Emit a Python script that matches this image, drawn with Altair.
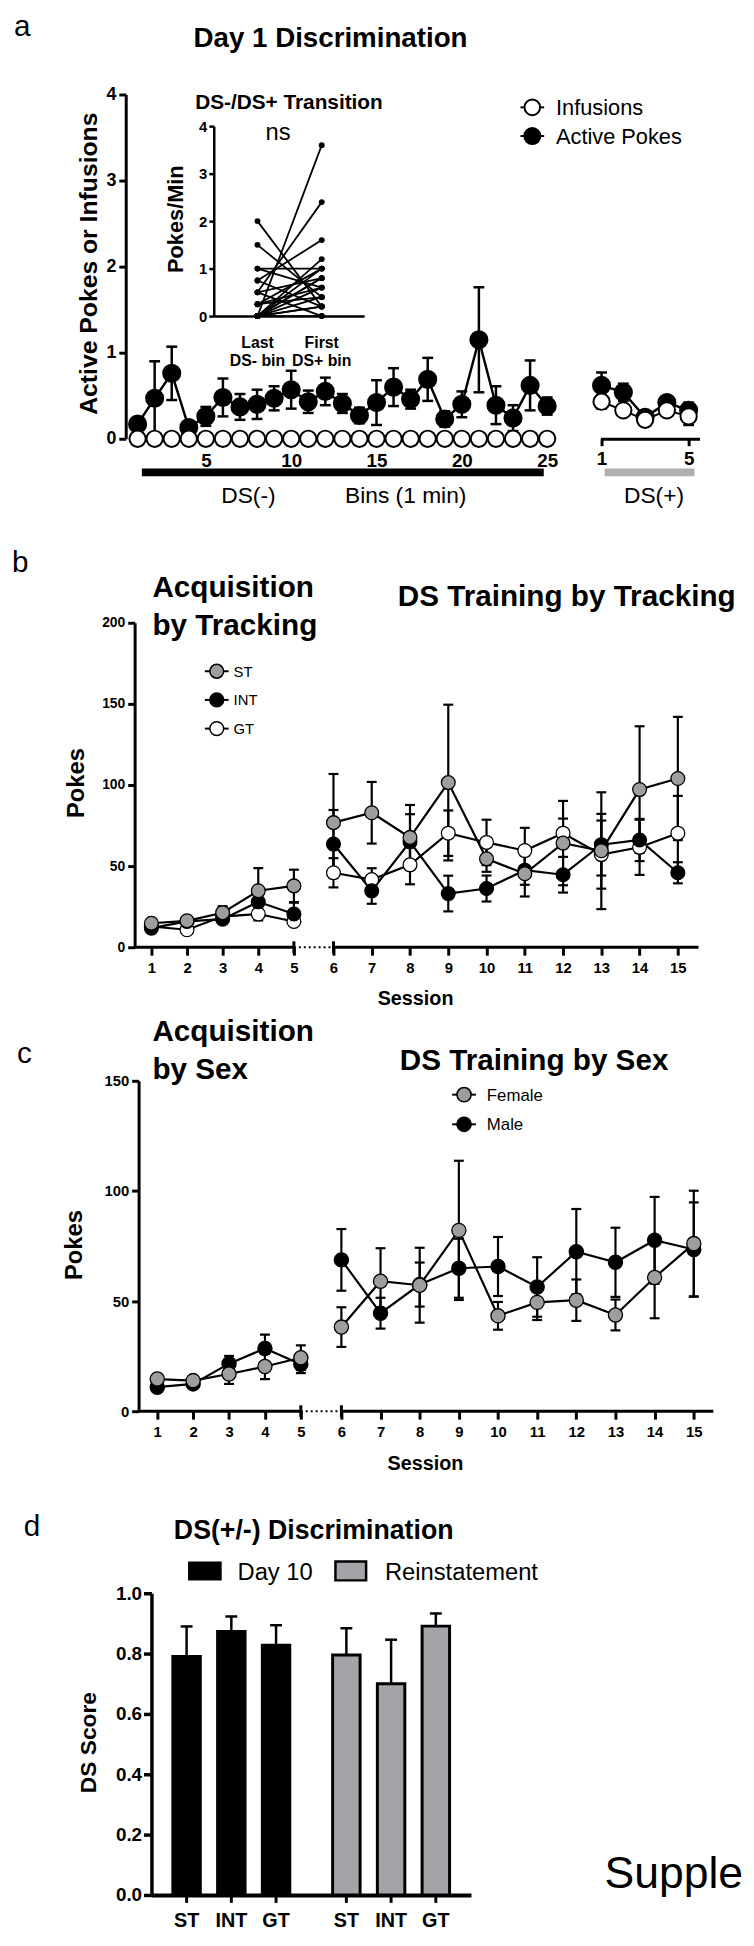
import altair as alt
import pandas as pd

FONT = "Liberation Sans"
W, H = 746, 1924
MARGIN = 8


def P(v):
    return v - MARGIN


# ---------------- Panel a data ----------------
a_bins_minus = [1, 2, 3, 4, 5, 6, 7, 8, 9, 10, 11, 12, 13, 14, 15, 16, 17, 18, 19, 20, 21, 22, 23, 24, 25]
a_active_minus = [0.17, 0.47, 0.76, 0.13, 0.26, 0.48, 0.37, 0.40, 0.47, 0.57, 0.43, 0.55, 0.41,
                  0.27, 0.42, 0.60, 0.46, 0.69, 0.23, 0.40, 1.15, 0.39, 0.24, 0.62, 0.38]
a_active_minus_sem = [0.04, 0.43, 0.31, 0.03, 0.11, 0.22, 0.15, 0.17, 0.14, 0.22, 0.13, 0.16, 0.11,
                      0.09, 0.26, 0.22, 0.11, 0.25, 0.09, 0.15, 0.61, 0.22, 0.15, 0.29, 0.10]
a_inf_minus = [0, 0, 0, 0, 0, 0, 0, 0, 0, 0, 0, 0, 0, 0, 0, 0, 0, 0, 0, 0, 0, 0, 0, 0, 0]
a_bins_plus = [1, 2, 3, 4, 5]
a_active_plus = [0.62, 0.54, 0.25, 0.42, 0.33]
a_active_plus_sem = [0.15, 0.10, 0.04, 0.04, 0.09]
a_inf_plus = [0.43, 0.33, 0.22, 0.33, 0.26]
a_inf_plus_sem = [0.08, 0.04, 0.03, 0.03, 0.10]

# inset: last DS- bin vs first DS+ bin (pokes/min), one pair per subject
ins_last = [2.0, 1.5, 1.0, 1.0, 0.75, 0.75, 0.5, 0.5, 0.5, 0.25, 0.25, 0.25,
            0, 0, 0, 0, 0, 0, 0, 0, 0, 0]
ins_first = [0.2, 0.4, 1.0, 0.6, 1.6, 0.2, 2.4, 0.8, 0.0, 1.0, 0.6, 0.4,
             3.6, 1.2, 1.0, 0.8, 0.6, 0.4, 0.2, 0.2, 0.0, 0.8]
ins_lab_top = ["Last", "First"]
ins_lab_bot = ["DS- bin", "DS+ bin"]

# ---------------- Panel b data ----------------
sessions = [1, 2, 3, 4, 5, 6, 7, 8, 9, 10, 11, 12, 13, 14, 15]
b_st = [14.8, 16.3, 21.3, 34.8, 37.8, 76.8, 82.9, 67.7, 101.5, 54.5, 45.3, 64.2, 59.5, 97.2, 104.0]
b_st_sem = [2.0, 2.0, 4.0, 14.0, 10.0, 30.0, 19.0, 20.0, 48.0, 8.0, 14.0, 26.0, 36.0, 39.0, 38.0]
b_int = [11.8, 15.9, 17.3, 28.0, 20.5, 63.6, 34.8, 65.0, 33.1, 36.2, 47.5, 44.7, 63.2, 66.1, 45.9]
b_int_sem = [1.0, 1.0, 2.0, 6.0, 7.0, 21.0, 8.0, 17.0, 11.0, 8.0, 9.0, 11.0, 19.0, 13.0, 6.5]
b_gt = [12.8, 10.8, 18.9, 20.5, 15.9, 45.9, 41.7, 50.8, 70.3, 64.6, 59.6, 70.3, 57.1, 61.6, 70.3]
b_gt_sem = [1.0, 1.0, 2.0, 4.0, 2.0, 9.0, 7.0, 12.0, 14.0, 14.0, 14.0, 9.0, 21.0, 17.0, 23.0]

# ---------------- Panel c data ----------------
c_female = [14.6, 13.9, 16.9, 20.3, 24.3, 38.2, 59.0, 57.2, 82.1, 43.3, 49.4, 50.4, 43.7, 60.7, 76.1]
c_female_sem = [1.5, 1.5, 4.5, 5.7, 5.6, 9.0, 15.0, 17.0, 31.6, 6.3, 8.0, 9.4, 7.0, 18.5, 24.0]
c_male = [10.9, 12.4, 21.6, 28.5, 21.3, 68.7, 44.5, 57.5, 64.9, 65.7, 56.4, 72.4, 67.6, 77.6, 73.4]
c_male_sem = [1.2, 1.2, 3.5, 6.3, 4.0, 14.0, 7.0, 10.0, 13.4, 13.4, 13.5, 19.4, 15.7, 19.7, 21.4]

# ---------------- Panel d data ----------------
d_sessions = ["Day 10", "Reinstatement"]
d_groups = ["ST", "INT", "GT"]
d_session = ["Day 10", "Day 10", "Day 10", "Reinstatement", "Reinstatement", "Reinstatement"]
d_group = ["ST", "INT", "GT", "ST", "INT", "GT"]
d_score = [0.79, 0.873, 0.828, 0.795, 0.70, 0.891]
d_err = [0.10, 0.05, 0.066, 0.089, 0.146, 0.042]

GRAY = "#9e9e9e"
BARGRAY = "#a4a4a8"
ONE = pd.DataFrame({"k": [0]})


# ---------------- helpers ----------------
def y_axis(xpos, values, size, fmt=None, tick=7, width=3, pad=3):
    kw = dict(orient="left", offset=-P(xpos), values=values, grid=False, title=None,
              domainColor="black", domainWidth=width, tickColor="black", tickWidth=width,
              tickSize=tick, labelFont=FONT, labelFontSize=size, labelFontWeight="bold",
              labelColor="black", labelPadding=pad, labelOverlap=False, labelFlush=False)
    if fmt:
        kw["format"] = fmt
    return alt.Axis(**kw)


def x_axis(ypos, values=None, size=15, domain=True, ticks=True, labels=True, tick=7,
           width=3, pad=3):
    kw = dict(orient="bottom", offset=P(ypos) - H, grid=False, title=None,
              domain=domain, ticks=ticks, labels=labels,
              domainColor="black", domainWidth=width, tickColor="black", tickWidth=width,
              tickSize=tick if ticks else 0, labelFont=FONT, labelFontSize=size,
              labelFontWeight="bold", labelColor="black", labelPadding=pad,
              labelOverlap=False, labelFlush=False)
    if values is not None:
        kw["values"] = values
    return alt.Axis(**kw)


def text(t, x, y, size, weight="normal", align="left", angle=0, baseline="alphabetic"):
    return alt.Chart(ONE).mark_text(
        text=t, font=FONT, fontSize=size, fontWeight=weight, align=align,
        baseline=baseline, angle=angle, color="black"
    ).encode(x=alt.value(P(x)), y=alt.value(P(y)))


def legend_item(xm, y, fill, label, xt, size, fsize, half=12, sw=1.5):
    base = alt.Chart(ONE)
    ln = base.mark_rule(color="black", strokeWidth=2).encode(
        x=alt.value(P(xm - half)), x2=alt.value(P(xm + half)), y=alt.value(P(y)))
    pt = base.mark_point(shape="circle", filled=True, fill=fill, stroke="black",
                         strokeWidth=sw, size=size, opacity=1).encode(
        x=alt.value(P(xm)), y=alt.value(P(y)))
    tx = text(label, xt, y + 0.36 * fsize, fsize)
    return [ln, pt, tx]


def errbar_layers(base, X, ys, axy, mean, lo, hi, cap=11, sw=2.5):
    err = base.mark_rule(color="black", strokeWidth=sw).encode(
        x=X, y=alt.Y(f"{lo}:Q", scale=ys, axis=axy), y2=f"{hi}:Q")
    ch = base.mark_tick(orient="horizontal", color="black", size=cap, thickness=sw,
                        opacity=1).encode(x=X, y=alt.Y(f"{hi}:Q", scale=ys, axis=axy))
    cl = base.mark_tick(orient="horizontal", color="black", size=cap, thickness=sw,
                        opacity=1).encode(x=X, y=alt.Y(f"{lo}:Q", scale=ys, axis=axy))
    return [err, ch, cl]


# ================= Panel a: DS(-) bins =================
dfa = pd.DataFrame({"bin": a_bins_minus, "active": a_active_minus,
                    "sem": a_active_minus_sem, "inf": a_inf_minus})
xa = alt.Scale(domain=[1, 25], range=[P(139), P(553)], nice=False, zero=False)
ya = alt.Scale(domain=[0, 4], range=[P(433), P(85)], nice=False, zero=False)
ax_xa = x_axis(433, values=[5, 10, 15, 20, 25], size=19, domain=False, ticks=False, pad=13)
ax_ya = y_axis(127, [0, 1, 2, 3, 4], 18, tick=7, pad=3)
Xa = alt.X("bin:Q", scale=xa, axis=ax_xa)
base_a = alt.Chart(dfa).transform_calculate(
    lo="datum.active - datum.sem", hi="datum.active + datum.sem")
a_layers = errbar_layers(base_a, Xa, ya, ax_ya, "active", "lo", "hi", cap=11)
a_layers += [
    base_a.mark_line(color="black", strokeWidth=2.5).encode(
        x=Xa, y=alt.Y("active:Q", scale=ya, axis=ax_ya)),
    base_a.mark_point(shape="circle", filled=True, fill="black", stroke="black",
                      size=300, opacity=1).encode(
        x=Xa, y=alt.Y("active:Q", scale=ya, axis=ax_ya)),
    base_a.mark_line(color="black", strokeWidth=2).encode(
        x=Xa, y=alt.Y("inf:Q", scale=ya, axis=ax_ya)),
    base_a.mark_point(shape="circle", filled=True, fill="white", stroke="black",
                      strokeWidth=2, size=270, opacity=1).encode(
        x=Xa, y=alt.Y("inf:Q", scale=ya, axis=ax_ya)),
    alt.Chart(ONE).transform_calculate(s="1.25", e="24.8").mark_rect(color="black").encode(
        x=alt.X("s:Q", scale=xa, axis=ax_xa), x2="e:Q",
        y=alt.value(P(463)), y2=alt.value(P(471))),
]
panel_a_minus = alt.layer(*a_layers)

# ================= Panel a: DS(+) bins =================
dfp = pd.DataFrame({"bin": a_bins_plus, "active": a_active_plus, "sem": a_active_plus_sem,
                    "inf": a_inf_plus, "isem": a_inf_plus_sem})
xp = alt.Scale(domain=[0.95, 5.5], range=[P(606.9), P(707)], nice=False, zero=False)
yp = alt.Scale(domain=[0, 4], range=[P(433), P(85)], nice=False, zero=False)
ax_xp = x_axis(433, values=[1, 5], size=19, tick=7, pad=4)
Xp = alt.X("bin:Q", scale=xp, axis=ax_xp)
base_p = alt.Chart(dfp).transform_calculate(
    lo="datum.active - datum.sem", hi="datum.active + datum.sem",
    ilo="datum.inf - datum.isem", ihi="datum.inf + datum.isem")
p_layers = errbar_layers(base_p, Xp, yp, None, "active", "lo", "hi", cap=11)
p_layers += [
    base_p.mark_line(color="black", strokeWidth=2.5).encode(
        x=Xp, y=alt.Y("active:Q", scale=yp, axis=None)),
    base_p.mark_point(shape="circle", filled=True, fill="black", stroke="black",
                      size=300, opacity=1).encode(
        x=Xp, y=alt.Y("active:Q", scale=yp, axis=None)),
]
p_layers += errbar_layers(base_p, Xp, yp, None, "inf", "ilo", "ihi", cap=11)
p_layers += [
    base_p.mark_line(color="black", strokeWidth=2).encode(
        x=Xp, y=alt.Y("inf:Q", scale=yp, axis=None)),
    base_p.mark_point(shape="circle", filled=True, fill="white", stroke="black",
                      strokeWidth=2, size=270, opacity=1).encode(
        x=Xp, y=alt.Y("inf:Q", scale=yp, axis=None)),
    alt.Chart(ONE).transform_calculate(s="1.14", e="5.27").mark_rect(color="#b3aeae").encode(
        x=alt.X("s:Q", scale=xp, axis=ax_xp), x2="e:Q",
        y=alt.value(P(463)), y2=alt.value(P(471))),
]
panel_a_plus = alt.layer(*p_layers)

# ================= Panel a: inset =================
ins_rows = []
for i, (l, f) in enumerate(zip(ins_last, ins_first)):
    ins_rows.append({"subj": i, "t": 0, "val": l})
    ins_rows.append({"subj": i, "t": 1, "val": f})
dfi = pd.DataFrame(ins_rows)
dfil = pd.DataFrame({"t": [0, 1], "top": ins_lab_top, "bot": ins_lab_bot})
xi = alt.Scale(domain=[-0.68, 1.66], range=[P(216), P(368)], nice=False, zero=False)
yi = alt.Scale(domain=[0, 4], range=[P(309), P(117)], nice=False, zero=False)
ax_xi = x_axis(309, ticks=False, labels=False, width=2.5)
ax_yi = y_axis(216, [0, 1, 2, 3, 4], 15, tick=5, width=2.5, pad=2)
Xi = alt.X("t:Q", scale=xi, axis=ax_xi)
panel_inset = alt.layer(
    alt.Chart(dfi).mark_line(color="black", strokeWidth=1.8).encode(
        x=Xi, y=alt.Y("val:Q", scale=yi, axis=ax_yi), detail="subj:N"),
    alt.Chart(dfi).mark_point(shape="circle", filled=True, color="black", size=36,
                              opacity=1).encode(
        x=Xi, y=alt.Y("val:Q", scale=yi, axis=ax_yi)),
    alt.Chart(dfil).mark_text(font=FONT, fontSize=16, fontWeight="bold", color="black",
                              align="center").encode(
        x=Xi, y=alt.value(P(336)), text="top:N"),
    alt.Chart(dfil).mark_text(font=FONT, fontSize=16, fontWeight="bold", color="black",
                              align="center").encode(
        x=Xi, y=alt.value(P(354)), text="bot:N"),
)


# ================= Panels b and c (generic) =================
def session_panel(series_list, xs, ys, axx, axy, fill_dom, fill_rng, size):
    rows = []
    for name, vals, sems in series_list:
        for s, v, e in zip(sessions, vals, sems):
            rows.append({"session": s, "series": name, "mean": v, "sem": e})
    df = pd.DataFrame(rows)
    base = alt.Chart(df).transform_calculate(
        lo="datum.mean - datum.sem", hi="datum.mean + datum.sem",
        phase="datum.session <= 5 ? 0 : 1")
    X = alt.X("session:Q", scale=xs, axis=axx)
    dom = xs.domain
    layers = []
    # broken x axis line
    for x0, x1 in [(dom[0], dom[1]), (dom[2], dom[3])]:
        layers.append(alt.Chart(ONE).transform_calculate(
            x0=str(x0), x1=str(x1), z="0").mark_rule(color="black", strokeWidth=3).encode(
            x=alt.X("x0:Q", scale=xs, axis=axx), x2="x1:Q",
            y=alt.Y("z:Q", scale=ys, axis=axy)))
    layers.append(alt.Chart(ONE).transform_calculate(
        x0=str(dom[1]), x1=str(dom[2]), z="0").mark_rule(
        color="black", strokeWidth=2, strokeDash=[2, 3]).encode(
        x=alt.X("x0:Q", scale=xs, axis=axx), x2="x1:Q",
        y=alt.Y("z:Q", scale=ys, axis=axy)))
    pix = (ys.domain[1] - ys.domain[0]) / (ys.range[0] - ys.range[1])
    brk = pd.DataFrame({"bx": [dom[1], dom[2]]})
    layers.append(alt.Chart(brk).transform_calculate(
        blo=str(-6 * pix), bhi=str(6 * pix)).mark_rule(color="black", strokeWidth=3).encode(
        x=alt.X("bx:Q", scale=xs, axis=axx),
        y=alt.Y("blo:Q", scale=ys, axis=axy), y2="bhi:Q"))
    layers += errbar_layers(base, X, ys, axy, "mean", "lo", "hi", cap=10, sw=2.2)
    layers.append(base.mark_line(color="black", strokeWidth=2.2).encode(
        x=X, y=alt.Y("mean:Q", scale=ys, axis=axy), detail=["series:N", "phase:N"]))
    layers.append(base.mark_point(shape="circle", filled=True, stroke="black",
                                  strokeWidth=1.3, size=size, opacity=1).encode(
        x=X, y=alt.Y("mean:Q", scale=ys, axis=axy),
        fill=alt.Fill("series:N", scale=alt.Scale(domain=fill_dom, range=fill_rng),
                      legend=None)))
    return alt.layer(*layers)


xb = alt.Scale(domain=[0.53, 5, 6, 15.54], range=[P(136), P(297), P(337), P(706)],
               nice=False, zero=False)
yb = alt.Scale(domain=[0, 200], range=[P(947), P(619)], nice=False, zero=False)
panel_b = session_panel(
    [("GT", b_gt, b_gt_sem), ("INT", b_int, b_int_sem), ("ST", b_st, b_st_sem)],
    xb, yb,
    x_axis(947, values=sessions, size=15, domain=False, tick=8, pad=6),
    y_axis(136, [0, 50, 100, 150, 200], 14, tick=7),
    ["ST", "INT", "GT"], [GRAY, "black", "white"], 195)

xc = alt.Scale(domain=[0.48, 5, 6, 15.5], range=[P(140), P(304), P(345), P(721)],
               nice=False, zero=False)
yc = alt.Scale(domain=[0, 150], range=[P(1416), P(1082)], nice=False, zero=False)
panel_c = session_panel(
    [("Male", c_male, c_male_sem), ("Female", c_female, c_female_sem)],
    xc, yc,
    x_axis(1416, values=sessions, size=15, domain=False, tick=8, pad=6),
    y_axis(140, [0, 50, 100, 150], 15, tick=7),
    ["Female", "Male"], [GRAY, "black"], 205)

# ================= Panel d =================
dfd = pd.DataFrame({"session": d_session, "group": d_group, "score": d_score, "err": d_err})
xd = alt.Scale(domain=d_sessions, range=[P(153), P(476)], paddingInner=0.16,
               paddingOuter=0.08)
xo = alt.Scale(domain=d_groups, paddingInner=0.386, paddingOuter=0.193)
yd = alt.Scale(domain=[0, 1], range=[P(1905), P(1600)], nice=False)
ax_xd = x_axis(1905, ticks=False, labels=False, width=4)
ax_yd = y_axis(153, [0, 0.2, 0.4, 0.6, 0.8, 1.0], 19, fmt=".1f", tick=8, width=3.5, pad=2)
Xd = alt.X("session:N", scale=xd, axis=ax_xd)
XO = alt.XOffset("group:N", scale=xo)
base_d = alt.Chart(dfd).transform_calculate(top="datum.score + datum.err")
panel_d = alt.layer(
    base_d.mark_rule(color="black", strokeWidth=2.5).encode(
        x=Xd, xOffset=XO, y=alt.Y("score:Q", scale=yd, axis=ax_yd), y2="top:Q"),
    base_d.mark_tick(orient="horizontal", color="black", size=12, thickness=2.5,
                     opacity=1).encode(
        x=Xd, xOffset=XO, y=alt.Y("top:Q", scale=yd, axis=ax_yd)),
    base_d.mark_bar(stroke="black", strokeWidth=3).encode(
        x=Xd, xOffset=XO, y=alt.Y("score:Q", scale=yd, axis=ax_yd),
        fill=alt.Fill("session:N", scale=alt.Scale(domain=d_sessions,
                                                   range=["black", BARGRAY]),
                      legend=None)),
    base_d.mark_rule(color="black", strokeWidth=3).encode(
        x=Xd, xOffset=XO, y=alt.value(P(1905)), y2=alt.value(P(1913))),
    base_d.mark_text(font=FONT, fontSize=20, fontWeight="bold", color="black",
                     align="center").encode(
        x=Xd, xOffset=XO, y=alt.value(P(1931)), text="group:N"),
)

# ================= annotations =================
ann = [
    text("a", 14, 26, 30),
    text("Day 1 Discrimination", 334, 37, 28, "bold", "center"),
    text("DS-/DS+ Transition", 292, 100, 21, "bold", "center"),
    text("ns", 281, 131, 24, "normal", "center"),
    text("Active Pokes or Infusions", 90, 256, 25, "bold", "center", 270, "middle"),
    text("Pokes/Min", 178, 211, 22, "bold", "center", 270, "middle"),
    text("DS(-)", 251, 498, 23, "normal", "center"),
    text("Bins (1 min)", 410, 498, 23, "normal", "center"),
    text("DS(+)", 661, 498, 23, "normal", "center"),
    text("b", 12, 568, 30),
    text("Acquisition", 154, 593, 30, "bold"),
    text("by Tracking", 154, 631, 30, "bold"),
    text("DS Training by Tracking", 402, 602, 30, "bold"),
    text("Pokes", 78, 781, 24, "bold", "center", 270, "middle"),
    text("Session", 420, 1005, 20, "bold", "center"),
    text("c", 17, 1064, 30),
    text("Acquisition", 154, 1042, 30, "bold"),
    text("by Sex", 154, 1080, 30, "bold"),
    text("DS Training by Sex", 404, 1071, 30, "bold"),
    text("Pokes", 76, 1248, 24, "bold", "center", 270, "middle"),
    text("Session", 430, 1475, 20, "bold", "center"),
    text("d", 24, 1542, 30),
    text("DS(+/-) Discrimination", 317, 1545, 27, "bold", "center"),
    text("DS Score", 90, 1751, 23, "bold", "center", 270, "middle"),
    text("Day 10", 240, 1587, 24),
    text("Reinstatement", 389, 1587, 24),
    text("Supple", 611, 1898, 45),
    alt.Chart(ONE).mark_rect(color="black").encode(
        x=alt.value(P(190)), x2=alt.value(P(224)), y=alt.value(P(1568)), y2=alt.value(P(1587))),
    alt.Chart(ONE).mark_rect(fill=BARGRAY, stroke="black", strokeWidth=2.5).encode(
        x=alt.value(P(339)), x2=alt.value(P(370)), y=alt.value(P(1568)), y2=alt.value(P(1587))),
]
ann += legend_item(538, 98, "white", "Infusions", 562, 250, 22, sw=2)
ann += legend_item(538, 127, "black", "Active Pokes", 562, 280, 22)
ann += legend_item(219, 668, GRAY, "ST", 236, 195, 15)
ann += legend_item(219, 697, "black", "INT", 236, 195, 15)
ann += legend_item(219, 726, "white", "GT", 236, 195, 15)
ann += legend_item(469, 1096, GRAY, "Female", 492, 205, 17)
ann += legend_item(469, 1126, "black", "Male", 492, 205, 17)

chart = alt.layer(
    panel_a_minus, panel_a_plus, panel_inset, panel_b, panel_c, panel_d, *ann
).resolve_scale(
    x="independent", y="independent", fill="independent", xOffset="independent"
).resolve_axis(
    x="independent", y="independent"
).properties(
    width=W, height=H, autosize=alt.AutoSizeParams(type="none"), padding=0,
    background="white"
).configure_view(stroke=None)

chart.save("out.html", embed_options={"renderer": "svg", "actions": False})
